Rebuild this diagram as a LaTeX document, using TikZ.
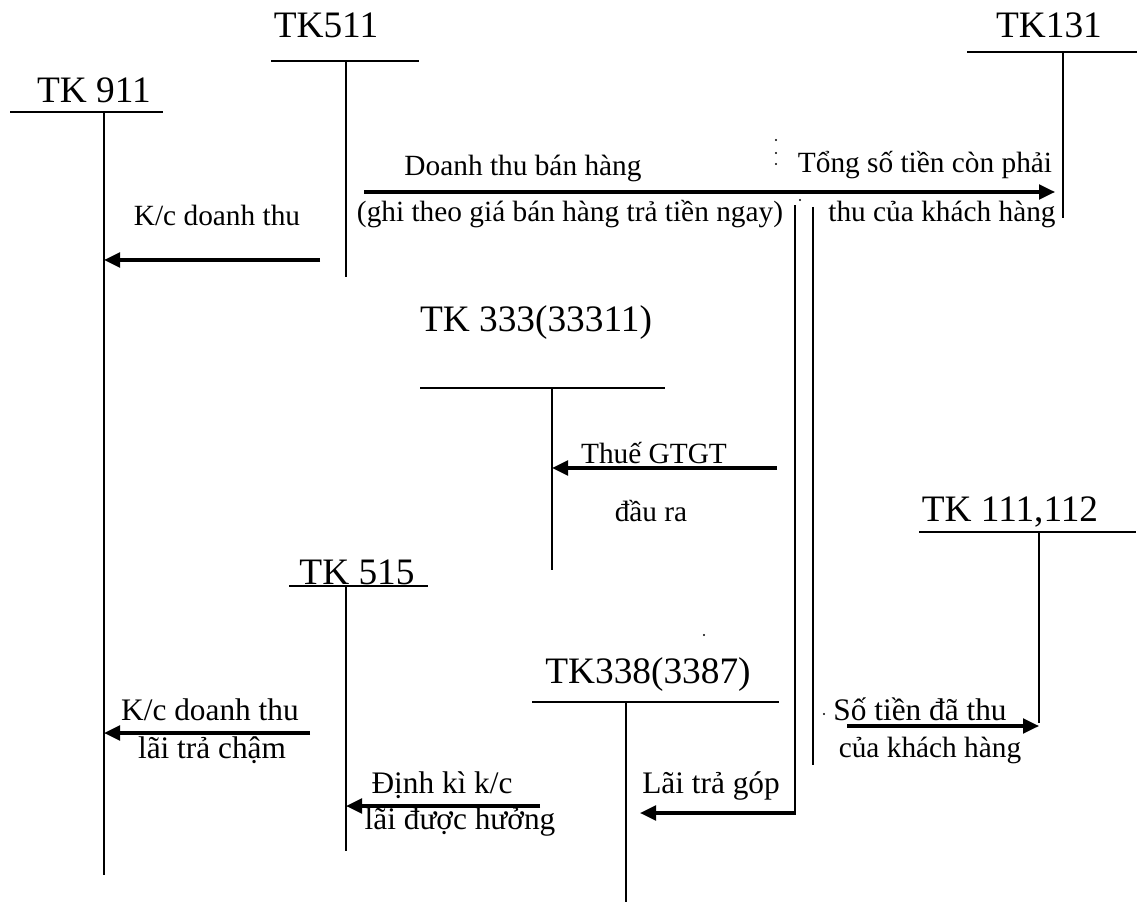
\documentclass[tikz,border=0pt]{standalone}
\usepackage{fontspec}
\setmainfont{Liberation Serif}
\usetikzlibrary{arrows.meta}
\begin{document}
\begin{tikzpicture}[x=0.75pt,y=-0.75pt,
  tline/.style={line width=1.6pt},
  arr/.style={line width=2.4pt,-{Triangle[length=12pt,width=11pt]}},
  big/.style={font=\fontsize{28}{33}\selectfont, anchor=base, inner sep=0pt},
  lbl/.style={font=\fontsize{22}{26}\selectfont, anchor=base, inner sep=0pt},
  lblm/.style={font=\fontsize{23.5}{28}\selectfont, anchor=base, inner sep=0pt},
  dotm/.style={fill=black,circle,inner sep=0pt,minimum size=1.6pt}
]
\useasboundingbox (0,0) rectangle (1140,902);

% ---- T accounts ----
\node[big] (t911) at (94,103) {TK 911};
\coordinate (h911l) at (10,112); \coordinate (h911r) at (163,112);
\coordinate (v911t) at (104,112); \coordinate (v911b) at (104,875);
\draw[tline] (h911l) -- (h911r); \draw[tline] (v911t) -- (v911b);

\node[big] (t511) at (326,38) {TK511};
\coordinate (h511l) at (271,61); \coordinate (h511r) at (419,61);
\coordinate (v511t) at (346,61); \coordinate (v511b) at (346,277);
\draw[tline] (h511l) -- (h511r); \draw[tline] (v511t) -- (v511b);

\node[big] (t131) at (1049,38) {TK131};
\coordinate (h131l) at (967,52); \coordinate (h131r) at (1137,52);
\coordinate (v131t) at (1063,52); \coordinate (v131b) at (1063,218);
\draw[tline] (h131l) -- (h131r); \draw[tline] (v131t) -- (v131b);

\node[big] (t333) at (536,332) {TK 333(33311)};
\coordinate (h333l) at (420,388); \coordinate (h333r) at (665,388);
\coordinate (v333t) at (552,388); \coordinate (v333b) at (552,570);
\draw[tline] (h333l) -- (h333r); \draw[tline] (v333t) -- (v333b);

\node[big] (t111) at (1010,522) {TK 111,112};
\coordinate (h111l) at (919,532); \coordinate (h111r) at (1136,532);
\coordinate (v111t) at (1039,532); \coordinate (v111b) at (1039,723);
\draw[tline] (h111l) -- (h111r); \draw[tline] (v111t) -- (v111b);

\node[big] (t515) at (357,585) {TK 515};
\coordinate (h515l) at (289,586); \coordinate (h515r) at (428,586);
\coordinate (v515t) at (346,586); \coordinate (v515b) at (346,851);
\draw[tline] (h515l) -- (h515r); \draw[tline] (v515t) -- (v515b);

\node[big] (t338) at (648,683) {TK338(3387)};
\coordinate (h338l) at (532,702); \coordinate (h338r) at (779,702);
\coordinate (v338t) at (626,702); \coordinate (v338b) at (626,902);
\draw[tline] (h338l) -- (h338r); \draw[tline] (v338t) -- (v338b);

% ---- split lines from TK131 ----
\coordinate (va1t) at (795,205); \coordinate (va1b) at (795,815);
\coordinate (va2t) at (813,207); \coordinate (va2b) at (813,765);
\draw[tline] (va1t) -- (va1b); \draw[tline] (va2t) -- (va2b);

% ---- arrows ----
\coordinate (s1) at (320,260);
\draw[arr] (s1) -- (s1 -| v911t);
\node[lbl] (l1) at (217,226) {K/c doanh thu};

\coordinate (s2) at (364,192);
\draw[arr,shorten >=6pt] (s2) -- (s2 -| v131t);
\node[lbl] (l2a) at (523,176) {Doanh thu bán hàng};
\node[lbl] (l2b) at (570,222) {(ghi theo giá bán hàng trả tiền ngay)};
\node[lbl] (l2c) at (925,173) {Tổng số tiền còn phải};
\node[lbl] (l2d) at (942,222) {thu của khách hàng};

\coordinate (s3) at (777,468);
\draw[arr] (s3) -- (s3 -| v333t);
\node[lbl] (l3a) at (654,464) {Thuế GTGT};
\node[lbl] (l3b) at (651,522) {đầu ra};

\coordinate (s4) at (847,726);
\draw[arr] (s4) -- (s4 -| v111t);
\node[lblm] (l4a) at (920,720) {Số tiền đã thu};
\node[lbl] (l4b) at (930,757) {của khách hàng};

\coordinate (s5) at (310,733);
\draw[arr] (s5) -- (s5 -| v911t);
\node[lblm] (l5a) at (210,720) {K/c doanh thu};
\node[lblm] (l5b) at (212,758) {lãi trả chậm};

\coordinate (s6) at (540,806);
\draw[arr] (s6) -- (s6 -| v515t);
\node[lblm] (l6a) at (442,793) {Định kì k/c};
\node[lblm] (l6b) at (460,829) {lãi được hưởng};

\coordinate (s7) at (795,813);
\coordinate (e7) at (640,813);
\draw[arr] (s7) -- (e7);
\node[lblm] (l7) at (711,793) {Lãi trả góp};

% ---- stray dots ----
\node[dotm] (d1) at (776,140) {};
\node[dotm] (d2) at (776,153) {};
\node[dotm] (d3) at (776,164) {};
\node[dotm] (d4) at (800,200) {};
\node[dotm] (d5) at (704,635) {};
\node[dotm] (d6) at (824,714) {};
\end{tikzpicture}
\end{document}
